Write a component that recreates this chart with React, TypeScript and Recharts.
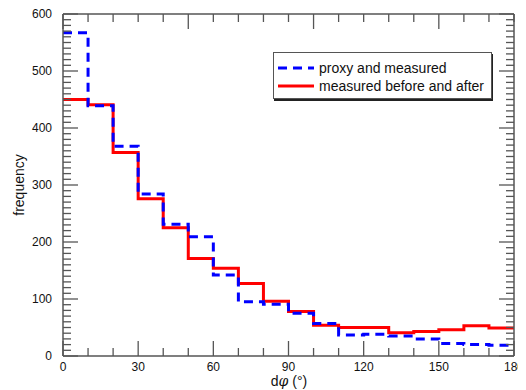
import * as React from "react";
import { LineChart, Line, XAxis, YAxis } from "recharts";

// histogram bin edges (degrees), last edge closes the final bin
const binEdges = [0, 10, 20, 30, 40, 50, 60, 70, 80, 90, 100, 110, 120, 130, 140, 150, 160, 170, 180];
const proxyAndMeasured = [567, 439, 368, 284, 231, 209, 142, 95, 91, 75, 57, 37, 38, 35, 30, 22, 20, 19];
const measuredBeforeAndAfter = [450, 441, 357, 276, 225, 171, 154, 127, 96, 78, 54, 50, 50, 41, 43, 46, 53, 49];

const xLabels = [0, 30, 60, 90, 120, 150, 180];
const yLabels = [0, 100, 200, 300, 400, 500, 600];
const yMinor = Array.from({ length: 61 }, (_, i) => i * 10);

const data = binEdges.map((edge, i) => ({
  edge,
  proxy: proxyAndMeasured[Math.min(i, proxyAndMeasured.length - 1)],
  measured: measuredBeforeAndAfter[Math.min(i, measuredBeforeAndAfter.length - 1)],
}));

const series = [
  { name: "proxy and measured", color: "#0000ff", dash: "9 6" },
  { name: "measured before and after", color: "#ff0000", dash: undefined },
];

const FONT = "'Liberation Sans', Arial, Helvetica, sans-serif";
const AXIS = "#555";
const TEXT = "#111";
const MAJOR = 15;
const MINOR = 8;
const TM = 2; // default tickMargin: tick x/y sit this far off the axis line

function BottomTick(p) {
  const { x, y, payload } = p;
  const major = xLabels.includes(payload.value);
  return (
    <g>
      <line x1={x} x2={x} y1={y - TM} y2={y - TM - (major ? MAJOR : MINOR)} stroke={AXIS} strokeWidth={1.3} />
      {major && (
        <text x={x} y={y + 13} textAnchor="middle" fontSize={12} fontFamily={FONT} fill={TEXT}>
          {payload.value}
        </text>
      )}
    </g>
  );
}

function TopTick(p) {
  const { x, y, payload } = p;
  const len = payload.value % 50 === 0 ? MAJOR : MINOR;
  return <line x1={x} x2={x} y1={y + TM} y2={y + TM + len} stroke={AXIS} strokeWidth={1.3} />;
}

function LeftTick(p) {
  const { x, y, payload } = p;
  const major = yLabels.includes(payload.value);
  return (
    <g>
      <line x1={x + TM} x2={x + TM + (major ? MAJOR : MINOR)} y1={y} y2={y} stroke={AXIS} strokeWidth={1.3} />
      {major && (
        <text x={x - 9} y={y + 4} textAnchor="end" fontSize={12} fontFamily={FONT} fill={TEXT}>
          {payload.value}
        </text>
      )}
    </g>
  );
}

function RightTick(p) {
  const { x, y, payload } = p;
  const len = yLabels.includes(payload.value) ? MAJOR : MINOR;
  return <line x1={x - TM} x2={x - TM - len} y1={y} y2={y} stroke={AXIS} strokeWidth={1.3} />;
}

const titleStyle = {
  position: "absolute" as const,
  whiteSpace: "nowrap" as const,
  fontFamily: FONT,
  fontSize: 14,
  lineHeight: "14px",
  color: TEXT,
};

export default function App() {
  return (
    <>
      <LineChart width={510} height={374} data={data} margin={{ top: 5, right: 3, bottom: 0, left: 0 }}>
        <XAxis
          xAxisId="b"
          dataKey="edge"
          type="number"
          domain={[0, 180]}
          ticks={binEdges}
          interval={0}
          tick={BottomTick}
          tickLine={false}
          tickSize={0}
          height={26}
          axisLine={{ stroke: AXIS, strokeWidth: 1.5 }}
        />
        <XAxis
          xAxisId="t"
          orientation="top"
          dataKey="edge"
          type="number"
          domain={[0, 180]}
          ticks={binEdges}
          interval={0}
          tick={TopTick}
          tickLine={false}
          tickSize={0}
          height={1}
          axisLine={{ stroke: AXIS, strokeWidth: 1.5 }}
        />
        <YAxis
          yAxisId="l"
          domain={[0, 600]}
          ticks={yMinor}
          interval={0}
          tick={LeftTick}
          tickLine={false}
          tickSize={0}
          width={55}
          axisLine={{ stroke: AXIS, strokeWidth: 1.5 }}
        />
        <YAxis
          yAxisId="r"
          orientation="right"
          dataKey="measured"
          domain={[0, 600]}
          ticks={yMinor}
          interval={0}
          tick={RightTick}
          tickLine={false}
          tickSize={0}
          width={1}
          axisLine={{ stroke: AXIS, strokeWidth: 1.5 }}
        />
        <Line
          xAxisId="b"
          yAxisId="l"
          type="stepAfter"
          dataKey="measured"
          stroke={series[1].color}
          strokeWidth={3}
          dot={false}
          isAnimationActive={false}
        />
        <Line
          xAxisId="b"
          yAxisId="l"
          type="stepAfter"
          dataKey="proxy"
          stroke={series[0].color}
          strokeWidth={3}
          strokeDasharray={series[0].dash}
          dot={false}
          isAnimationActive={false}
        />
      </LineChart>
      <div
        style={{
          position: "absolute",
          left: 273,
          top: 52,
          boxSizing: "border-box",
          width: 219,
          height: 47,
          border: `1px solid ${AXIS}`,
          boxShadow: "1px 2px 0 #222",
          background: "#fff",
          padding: "6px 4px 0 4px",
          fontFamily: FONT,
          fontSize: 14,
          color: TEXT,
          lineHeight: "18px",
        }}
      >
        {series.map((s) => (
          <div key={s.name} style={{ display: "flex", alignItems: "center", height: 18 }}>
            <svg width={36} height={10} style={{ display: "block" }}>
              <line x1={0} x2={36} y1={5} y2={5} stroke={s.color} strokeWidth={3} strokeDasharray={s.dash} />
            </svg>
            <span style={{ marginLeft: 5, whiteSpace: "nowrap" }}>{s.name}</span>
          </div>
        ))}
      </div>
      <div style={{ ...titleStyle, left: 19, top: 185, transform: "translate(-50%, -50%) rotate(-90deg)" }}>frequency</div>
      <div style={{ ...titleStyle, left: 289, top: 381, transform: "translate(-50%, -50%)" }}>
        d<span style={{ fontStyle: "italic", fontFamily: "'DejaVu Serif', serif" }}>φ</span> (°)
      </div>
    </>
  );
}
